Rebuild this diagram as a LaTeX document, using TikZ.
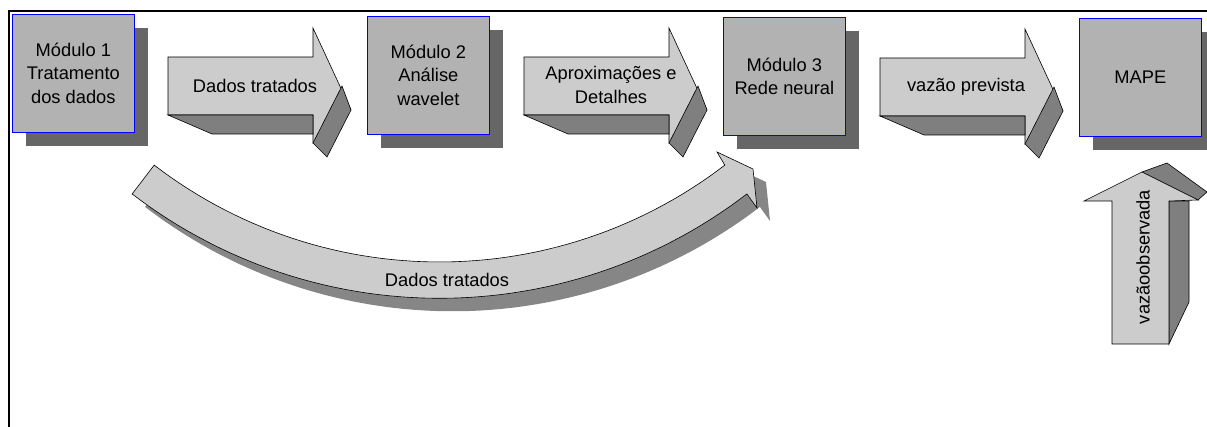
\documentclass[tikz,border=0pt]{standalone}
\usepackage{fontspec}
\setmainfont{Liberation Sans}
\usetikzlibrary{shadows}
\definecolor{boxfill}{HTML}{B2B2B2}
\definecolor{boxshadow}{HTML}{666666}
\definecolor{arrowfill}{HTML}{CCCCCC}
\definecolor{arrowdark}{HTML}{7F7F7F}
\definecolor{curveshadow}{HTML}{868686}
\definecolor{modblue}{HTML}{0000FF}
\tikzset{
  modbox/.style={draw=modblue, line width=0.7pt, fill=boxfill, minimum width=122pt, minimum height=118pt,
    inner sep=0pt, align=center, anchor=north west, font=\fontsize{18.3}{23.5}\selectfont,
    drop shadow={shadow xshift=14pt, shadow yshift=-14pt, fill=boxshadow, opacity=1}},
  lbl/.style={align=center, inner sep=0pt, font=\fontsize{18.3}{23.5}\selectfont},
  face/.style={draw=black, line width=0.6pt, line join=miter},
  blockarrow/.pic={
    \path[face, fill=arrowfill] (0,0) -- (145,0) -- (145,-29) -- (183,53) -- (145,86) -- (145,58) -- (0,58) -- cycle;
    \path[face, fill=arrowdark] (174,29) -- (183,53) -- (159,100) -- (145,86) -- cycle;
    \path[face, fill=arrowdark] (0,58) -- (44,77) -- (145,77) -- (145,58) -- cycle;
  }
}
\begin{document}
\begin{tikzpicture}[x=1pt, y=-1pt]
\useasboundingbox (0,0) rectangle (1207,427);
\clip (0,0) rectangle (1207,427);

% frame
\draw[line width=1.8pt] (9,428) -- (9,11) -- (1208,11);

% modules
\node[modbox] (m1) at (12,14) {Módulo 1\\Tratamento\\dos dados};
\node[modbox] (m2) at (367,16) {Módulo 2\\Análise\\wavelet};
\node[modbox] (m3) at (723,17) {Módulo 3\\Rede neural};
\node[modbox] (mape) at (1079,18) {MAPE};

% straight block arrows
\pic at (168,57) {blockarrow};
\pic at (524,57) {blockarrow};
\pic at (880,58) {blockarrow};
\node[lbl] (a1) at (255,86) {Dados tratados};
\node[lbl] (a2) at (611,85) {Aproximações e\\Detalhes};
\node[lbl] (a3) at (966,87) {vazão prevista};

% curved arrow: shadow
\begin{scope}[shift={(13,13)}]
\fill[curveshadow] (132.1,194) -- plot[domain=0:75, samples=60] ({439.5+468.7*cos(232.5+\x)},{-206.7-468.7*sin(232.5+\x)})
  -- (717,152) -- (753,169) -- (757,208)
  -- plot[domain=0:75, samples=60] ({439.5+505*cos(307.5-\x)},{-206.7-505*sin(307.5-\x)}) -- cycle;
\end{scope}
% curved arrow: body
\path[face, fill=arrowfill] (132.1,194) -- plot[domain=0:75, samples=60] ({439.5+468.7*cos(232.5+\x)},{-206.7-468.7*sin(232.5+\x)})
  -- (717,152) -- (753,169) -- (757,208)
  -- plot[domain=0:75, samples=60] ({439.5+505*cos(307.5-\x)},{-206.7-505*sin(307.5-\x)}) -- cycle;
\node[lbl] (a4) at (447,280) {Dados tratados};

% vertical arrow
\path[face, fill=arrowdark] (1142,172) -- (1167,163) -- (1207,192) -- (1198,200) -- cycle;
\path[face, fill=arrowdark] (1169,201) -- (1189,201) -- (1189,302) -- (1169,344) -- cycle;
\path[face, fill=arrowfill] (1112,344) -- (1112,201) -- (1084,201) -- (1142,172) -- (1198,200) -- (1169,201) -- (1169,344) -- cycle;
\node[lbl, rotate=90] (a5) at (1143,257) {vazãoobservada};
\end{tikzpicture}
\end{document}
